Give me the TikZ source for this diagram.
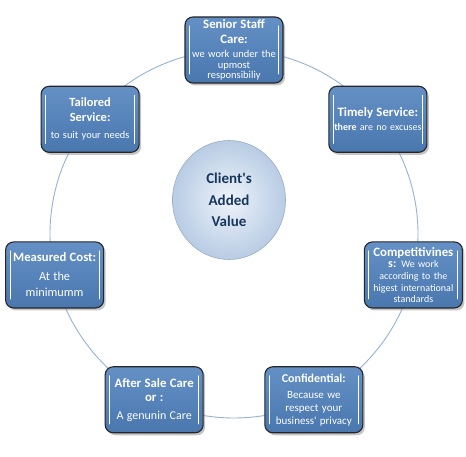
\documentclass[tikz,border=0pt]{standalone}
\usepackage{fontspec}
\setmainfont{Carlito}
\usetikzlibrary{shadows,shapes.geometric,calc}
\definecolor{boxblue}{RGB}{79,129,189}
\definecolor{ringblue}{RGB}{149,179,215}
\definecolor{valuenavy}{RGB}{23,55,94}
\definecolor{ovallight}{RGB}{238,243,250}
\definecolor{ovaldark}{RGB}{184,204,228}
\tikzset{
  valuebox/.style={draw=black!85,line width=1.1pt,rounded corners=8pt,
    top color=boxblue!88!white,bottom color=boxblue!92!black,
    minimum width=98pt,minimum height=66pt,text width=96pt,align=center,
    text=white,inner sep=1pt,
    drop shadow={shadow xshift=2pt,shadow yshift=-2.5pt,fill=black!45},
    path picture={
      \draw[white,line width=1pt,line cap=round]
        ([xshift=4.5pt,yshift=-9pt]path picture bounding box.north west) --
        ([xshift=4.5pt,yshift=9pt]path picture bounding box.south west);
      \draw[white,line width=1pt,line cap=round]
        ([xshift=-4.5pt,yshift=-9pt]path picture bounding box.north east) --
        ([xshift=-4.5pt,yshift=9pt]path picture bounding box.south east);
    }},
  ring/.style={draw=ringblue,line width=0.9pt}
}
% head and body of a box, each as its own paragraph
\newcommand\headtext[3]{{\bfseries\fontsize{#1}{#2}\selectfont #3\par}}
\newcommand\bodytext[3]{{\fontsize{#1}{#2}\selectfont #3\par}}
\begin{document}
\begin{tikzpicture}[x=1pt,y=1pt]
  \useasboundingbox[fill=white] (0,0) rectangle (466,456);
  \coordinate (hub) at (234,222);
  \draw[ring] (hub) circle (184);
  % centre
  \node (added) at (229,256) [ellipse,minimum width=113pt,minimum height=119pt,
    draw=ovaldark!85!black,line width=0.6pt,inner color=ovallight,outer color=ovaldark,
    text=valuenavy,align=center,font=\bfseries\fontsize{15}{21.5}\selectfont]
    {Client\textquotesingle s\\Added\\Value};
  % ring of boxes
  \node[valuebox] (senior) at ($(hub)+(90:184)$)
    {\headtext{12.8}{15}{Senior Staff\\Care:}\vspace{4pt}
     \bodytext{10.5}{10.5}{we work under the\\upmost\\responsibiliy}};
  \node[valuebox] (timely) at ($(hub)+(38.57:184)$)
    {\headtext{12.8}{15}{Timely Service:}\vspace{2pt}
     \bodytext{10}{12}{\textbf{there} are no excuses}};
  \node[valuebox] (compet) at ($(hub)+(-12.86:184)$)
    {\headtext{12.8}{14}{Competitivines}
     \bodytext{10}{11.7}{\textbf{\fontsize{12}{11.7}\selectfont s:} We work\\according to the\\higest international\\standards}};
  \node[valuebox] (confid) at ($(hub)+(-64.29:184)$)
    {\headtext{12}{14}{Confidential:}\vspace{3pt}
     \bodytext{11}{13}{Because we\\respect your\\business\textquotesingle\ privacy}};
  \node[valuebox] (aftersale) at ($(hub)+(-115.71:184)$)
    {\headtext{12.8}{14}{After Sale Care\\or :}\vspace{5pt}
     \bodytext{12}{13}{A genunin Care}};
  \node[valuebox] (measured) at ($(hub)+(-167.14:184)$)
    {\headtext{12.7}{14}{Measured Cost:}\vspace{3pt}
     \bodytext{12.3}{16}{At the\\minimumm}};
  \node[valuebox] (tailored) at ($(hub)+(141.43:184)$)
    {\headtext{12.5}{15}{Tailored\\Service:}\vspace{5pt}
     \bodytext{10.4}{12}{to suit your needs}};
\end{tikzpicture}
\end{document}
